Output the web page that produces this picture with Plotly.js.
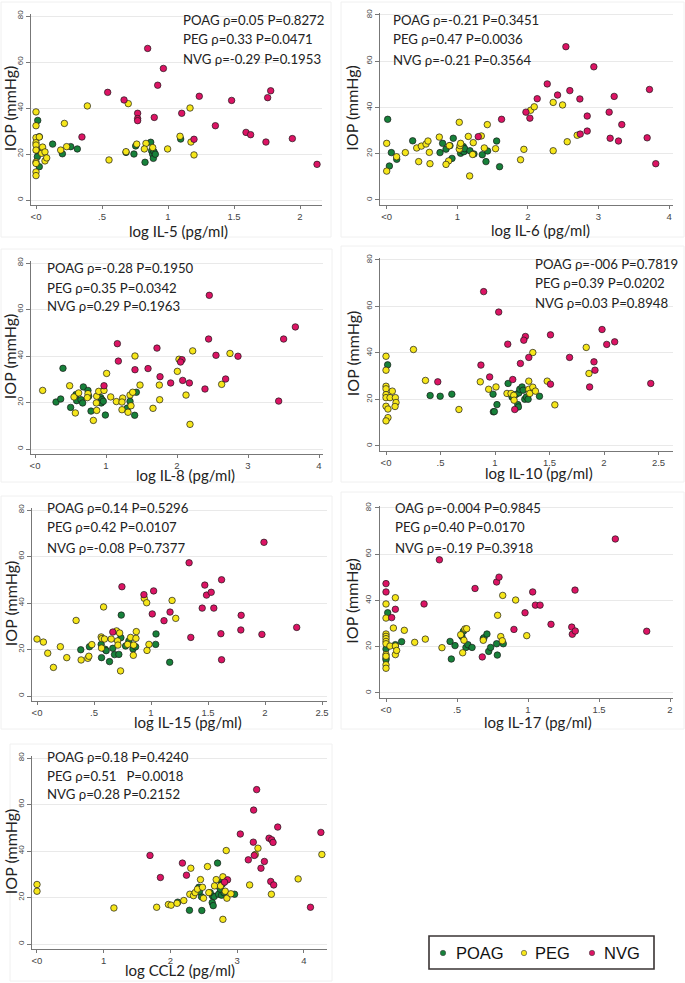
<!DOCTYPE html>
<html>
<head>
<meta charset="utf-8">
<script src="https://cdn.plot.ly/plotly-3.0.1.min.js"></script>
<style>html,body{margin:0;padding:0;background:#fff;}#chart{width:685px;height:983px;}</style>
</head>
<body>
<div id="chart"></div>
<script>
// ---------- DATA ----------
const groups = ["POAG", "PEG", "NVG"];

// IL-5
const il5_poag_x = [0.013,0.025,0.01,0.025,0.005,0.126,0.2,0.263,0.313,0.682,0.742,0.755,0.826,0.869,0.876,0.884,0.889,0.894,0.904,1.096];
const il5_poag_y = [34.6,27.5,18.8,14.5,21.6,24.3,20.1,23.2,22.2,20.7,20.0,23.5,16.4,25.1,21.4,19.9,18.1,21.0,19.9,26.5];
const il5_peg_x = [0,0,0,0,0,0,0,0,0,0,0.025,0.043,0.05,0.068,0.068,0.081,0.187,0.215,0.232,0.389,0.553,0.699,0.682,0.763,0.833,0.821,0.884,0.997,1.091,1.167,1.174,1.197];
const il5_peg_y = [38.3,32.3,27.1,24.9,23.9,21.7,16.5,15.9,12.2,10.6,27.4,20.3,23.0,20.9,17.0,18.3,21.7,33.3,23.2,40.9,17.4,41.9,21.0,24.3,24.6,22.2,22.8,22.2,27.7,40.0,25.2,19.6];
const il5_nvg_x = [0.846,0.965,0.922,0.543,0.667,0.770,0.770,0.770,0.896,1.104,1.237,1.482,1.778,1.755,1.359,1.591,1.626,1.942,1.742,1.197,2.129,0.348];
const il5_nvg_y = [65.9,57.2,49.9,46.8,43.5,37.7,35.4,34.5,35.9,37.7,45.1,43.3,47.5,44.5,32.3,29.4,28.4,26.7,25.2,26.4,15.5,27.4];

// IL-6
const il6_poag_x = [0.014,0.038,0.066,0.142,0.368,0.755,0.792,0.840,0.896,0.925,0.943,1.047,1.066,1.085,1.094,1.104,1.179,1.236,1.354,1.406,1.429,1.557,1.599];
const il6_poag_y = [34.9,14.7,20.5,17.6,25.6,20.5,24.5,22.0,23.5,18.0,26.7,20.2,21.3,23.1,20.9,22.2,21.3,19.9,19.6,16.6,21.2,25.5,14.4];
const il6_peg_x = [0,0,0.14,0.264,0.425,0.491,0.453,0.557,0.585,0.604,0.613,0.745,0.887,0.877,0.840,1.028,1.028,1.038,1.047,1.156,1.175,1.217,1.226,1.340,1.425,1.382,1.542,1.896,1.943,2.038,2.090,2.358,2.358,2.491,2.557,2.698];
const il6_peg_y = [24.5,12.5,18.7,20.5,22.5,23.3,16.6,24.2,25.5,20.6,15.7,27.2,23.5,16.9,15.4,33.6,22.0,23.5,24.5,27.5,10.4,19.7,24.8,27.7,32.6,22.5,22.2,17.4,21.9,38.8,40.3,42.2,21.3,41.1,25.2,28.0];
const il6_nvg_x = [2.538,2.934,2.274,2.420,2.594,2.132,2.736,3.222,3.722,1.972,2.028,1.627,2.840,3.151,3.330,1.297,2.741,2.840,3.165,3.283,3.689,3.811];
const il6_nvg_y = [66.3,57.6,50.2,45.4,47.3,43.8,43.7,44.8,47.8,38.0,35.4,34.9,36.3,38.0,32.6,27.4,28.5,29.8,26.7,25.5,26.9,15.7];

// IL-8
const il8_poag_x = [0.296,0.362,0.394,0.502,0.577,0.587,0.648,0.671,0.681,0.746,0.756,0.789,0.925,0.934,0.944,0.962,0.991,1.300,1.338,1.404,1.427];
const il8_poag_y = [20.2,21.5,34.7,17.9,23.4,20.8,21.2,19.8,26.7,25.2,22.7,16.3,22.1,19.8,21.2,20.5,14.6,17.6,20.5,14.5,24.4];
const il8_peg_x = [0.108,0.488,0.549,0.568,0.615,0.746,0.737,0.864,0.869,0.869,0.897,0.822,0.972,1.009,1.066,1.146,1.235,1.225,1.310,1.338,1.352,1.376,1.408,1.479,1.662,1.751,1.756,2.005,2.028,2.127,2.183,2.221,2.629,2.746,1.225];
const il8_peg_y = [25.2,27.2,22.4,15.5,24.1,23.8,22.1,19.8,22.7,16.6,24.8,12.3,25.2,32.5,22.4,20.4,21.9,16.9,15.8,23.2,18.6,24.4,40.0,27.5,17.5,27.5,21.2,33.4,38.6,23.2,10.6,42.2,27.8,41.1,20.2];
const il8_nvg_x = [2.455,2.445,3.667,3.502,1.160,1.718,1.174,2.071,2.050,2.549,2.859,1.592,1.408,1.761,0.972,2.080,1.911,2.174,2.685,2.394,3.432];
const il8_nvg_y = [66.1,47.3,52.5,47.3,45.3,43.4,37.8,38.4,37.4,40.3,39.9,34.6,34.1,31.1,27.2,29.5,28.4,28.4,30.1,25.8,20.6];

// IL-10
const il10_poag_x = [0.015,0.405,0.497,0.604,0.982,0.985,0.994,1.018,1.120,1.156,1.190,1.209,1.215,1.218,1.227,1.248,1.258,1.273,1.288,1.304,1.408];
const il10_poag_y = [34.9,21.7,21.4,22.3,22.3,14.7,14.8,17.8,26.9,21.1,22.1,17.8,16.8,22.8,24.4,25.4,24.0,20.1,21.1,20.1,21.4];
const il10_peg_x = [0,0,0,0,0,0,0,0.018,0.018,0,0.058,0.037,0.086,0.092,0.083,0.252,0.362,0.669,0.865,0.942,1.009,1.110,1.147,1.172,1.175,1.310,1.310,1.319,1.347,1.347,1.371,1.479,1.549,1.837,1.862];
const il10_peg_y = [38.6,32.6,25.7,24.6,22.1,20.8,17.1,15.9,12.2,10.8,23.6,20.8,20.8,18.7,17.0,41.5,28.2,15.7,27.6,24.4,25.4,22.6,22.6,21.8,19.7,27.9,24.4,22.6,40.2,25.3,23.6,27.9,17.7,42.4,31.2];
const il10_nvg_x = [0.896,1.034,1.117,1.279,1.264,1.509,1.982,2.025,2.098,1.310,1.684,0.871,1.233,1.908,1.917,0.951,1.163,0.475,1.509,1.868,2.429,1.181];
const il10_nvg_y = [66.4,57.6,43.8,47.1,45.5,47.8,50.1,43.7,44.8,38.1,38.1,34.8,35.5,36.2,32.6,29.7,28.6,27.6,26.6,25.4,26.9,15.7];

// IL-15
const il15_poag_x = [0.384,0.46,0.566,0.563,0.598,0.607,0.636,0.665,0.680,0.718,0.736,0.739,0.777,0.806,0.842,0.865,1.041,1.044,1.164];
const il15_poag_y = [19.9,21.2,16.5,22.2,20.1,19.5,14.8,20.5,17.8,17.9,25.1,34.8,21.5,23.7,20.2,21.2,22.2,26.7,14.5];
const il15_peg_x = [0,0.056,0.094,0.144,0.205,0.261,0.343,0.387,0.446,0.455,0.481,0.563,0.569,0.584,0.592,0.651,0.566,0.698,0.707,0.725,0.710,0.733,0.795,0.821,0.848,0.845,0.871,0.868,0.941,0.962,0.965,0.982,1.185,1.217];
const il15_peg_y = [24.5,23.2,18.4,12.3,21.2,16.5,32.5,15.5,16.2,17.1,22.1,25.4,24.7,38.3,24.5,24.5,20.6,28.0,23.7,27.1,21.9,10.8,22.2,25.2,21.9,17.5,27.7,24.8,42.0,40.1,19.6,22.2,41.1,33.4];
const il15_nvg_x = [1.991,1.334,0.745,1.472,1.619,1.023,0.938,1.487,1.528,1.449,1.551,1.011,1.167,1.791,1.114,1.788,2.278,1.349,1.613,1.973,1.619,0.665];
const il15_nvg_y = [66.1,57.3,47.0,47.7,50.0,45.2,43.6,43.4,44.6,37.8,37.8,35.3,36.1,34.7,32.4,28.4,29.5,25.2,26.8,26.5,15.6,27.5];

// IL-17
const il17_poag_x = [0.012,0,0,0,0.066,0.110,0.451,0.460,0.486,0.535,0.545,0.563,0.577,0.606,0.685,0.690,0.711,0.723,0.737,0.779,0.784,0.826];
const il17_poag_y = [34.7,19.0,15.1,14.4,20.9,22.2,22.3,14.7,20.5,24.4,26.7,19.7,20.9,19.7,23.5,23.9,25.5,18.0,19.7,21.3,16.4,21.3];
const il17_peg_x = [0,0,0,0,0,0,0,0,0,0,0,0.028,0.052,0.066,0.066,0.066,0.075,0.129,0.202,0.277,0.394,0.526,0.540,0.549,0.556,0.568,0.685,0.786,0.822,0.808,0.819,0.913,0.991];
const il17_peg_y = [38.5,32.4,25.5,24.5,23.5,22.3,21.3,16.6,15.9,12.2,10.7,20.3,28.1,41.2,20.3,16.6,18.4,27.1,21.9,23.3,19.6,25.2,17.4,22.8,27.7,27.8,22.8,33.6,42.2,24.4,22.6,40.2,24.8];
const il17_nvg_x = [1.615,0.376,0,0,0.066,0.040,0.268,0.627,0.779,0.796,1.033,1.331,0.979,1.052,1.085,0.901,1.162,1.308,1.312,1.333,1.836,0.678];
const il17_nvg_y = [66.6,57.6,47.3,43.7,36.2,32.6,38.5,45.2,48.0,50.1,43.7,44.5,34.7,38.0,38.0,27.5,29.7,28.5,25.4,26.8,26.7,15.6];

// CCL2
const ccl2_poag_x = [2.110,2.286,2.426,2.466,2.471,2.632,2.627,2.642,2.657,2.707,2.722,2.767,2.767,2.777,2.802,2.962,2.597,2.436,2.747];
const ccl2_poag_y = [18.0,14.5,24.4,20.3,14.4,20.7,17.8,16.5,20.4,34.8,21.4,21.0,26.7,25.7,22.1,21.4,22.1,22.6,23.6];
const ccl2_peg_x = [0,0,1.153,1.794,1.970,2.010,2.100,2.201,2.291,2.306,2.346,2.371,2.406,2.451,2.481,2.496,2.556,2.576,2.662,2.687,2.752,2.787,2.787,2.822,2.837,2.847,2.907,3.188,3.273,3.313,3.514,3.915,4.271];
const ccl2_peg_y = [25.6,22.7,15.5,15.8,17.0,16.7,17.5,18.7,21.4,32.6,20.8,22.1,23.6,27.7,24.4,19.7,33.3,22.1,25.0,27.7,25.0,28.9,10.6,22.7,40.2,19.7,21.6,25.4,38.5,41.2,21.4,28.0,38.5];
const ccl2_nvg_x = [3.293,3.248,3.609,3.048,4.256,3.479,3.519,3.539,3.243,1.694,3.258,3.168,3.409,2.180,3.358,1.850,2.241,2.857,2.812,3.504,3.549,4.100];
const ccl2_nvg_y = [66.4,57.6,50.3,47.3,48.0,45.5,44.8,43.7,43.8,38.1,38.1,36.2,35.5,34.8,32.6,28.6,29.6,27.6,26.6,26.9,25.4,15.8];

const xTitles = ["log IL-5 (pg/ml)", "log IL-6 (pg/ml)", "log IL-8 (pg/ml)", "log IL-10 (pg/ml)", "log IL-15 (pg/ml)", "log IL-17 (pg/ml)", "log CCL2 (pg/ml)"];
const yTitle = "IOP (mmHg)";
const xTickVals = [[0,0.5,1,1.5,2],[0,1,2,3,4],[0,1,2,3,4],[0,0.5,1,1.5,2,2.5],[0,0.5,1,1.5,2,2.5],[0,0.5,1,1.5,2],[0,1,2,3,4]];
const xTickText = [["<0",".5","1","1.5","2"],["<0","1","2","3","4"],["<0","1","2","3","4"],["<0",".5","1","1.5","2","2.5"],["<0",".5","1","1.5","2","2.5"],["<0",".5","1","1.5","2"],["<0","1","2","3","4"]];
const yTickVals = [0,20,40,60,80];
const statTexts = [
  ["POAG ρ=0.05 P=0.8272", "PEG ρ=0.33 P=0.0471", "NVG ρ=-0.29 P=0.1953"],
  ["POAG ρ=-0.21 P=0.3451", "PEG ρ=0.47 P=0.0036", "NVG ρ=-0.21 P=0.3564"],
  ["POAG ρ=-0.28 P=0.1950", "PEG ρ=0.35 P=0.0342", "NVG ρ=0.29 P=0.1963"],
  ["POAG ρ=-006 P=0.7819", "PEG ρ=0.39 P=0.0202", "NVG ρ=0.03 P=0.8948"],
  ["POAG ρ=0.14 P=0.5296", "PEG ρ=0.42 P=0.0107", "NVG ρ=-0.08 P=0.7377"],
  ["OAG ρ=-0.004 P=0.9845", "PEG ρ=0.40 P=0.0170", "NVG ρ=-0.19 P=0.3918"],
  ["POAG ρ=0.18 P=0.4240", "PEG ρ=0.51\u2002 P=0.0018", "NVG ρ=0.28 P=0.2152"]
];

const panelData = [
  [il5_poag_x, il5_poag_y, il5_peg_x, il5_peg_y, il5_nvg_x, il5_nvg_y],
  [il6_poag_x, il6_poag_y, il6_peg_x, il6_peg_y, il6_nvg_x, il6_nvg_y],
  [il8_poag_x, il8_poag_y, il8_peg_x, il8_peg_y, il8_nvg_x, il8_nvg_y],
  [il10_poag_x, il10_poag_y, il10_peg_x, il10_peg_y, il10_nvg_x, il10_nvg_y],
  [il15_poag_x, il15_poag_y, il15_peg_x, il15_peg_y, il15_nvg_x, il15_nvg_y],
  [il17_poag_x, il17_poag_y, il17_peg_x, il17_peg_y, il17_nvg_x, il17_nvg_y],
  [ccl2_poag_x, ccl2_poag_y, ccl2_peg_x, ccl2_peg_y, ccl2_nvg_x, ccl2_nvg_y]
];

// ---------- LAYOUT ----------
const W = 685, H = 983;
const colors = {POAG: "#17813a", PEG: "#f6e61a", NVG: "#dc1464"};
// x0/xs: pixel of x=0 and px per unit; y0/y80: pixels of y=0 and y=80;
// tx/ty: stats text position; xt: x-title centre; yt: y-title x centre; fr: faint panel frame
const geo = [
  {x0: 36, xs: 132, xr: [-0.04, 2.17], y0: 200, y80: 16, tx: 181, ty: [20, 39, 59], xt: [178, 231], yt: 9, fr: [1, 2, 331, 237]},
  {x0: 386.7, xs: 70.6, xr: [-0.09, 4.05], y0: 200, y80: 15, tx: 391, ty: [20, 39, 60], xt: [540, 230], yt: 352, fr: [341, 2, 684, 237]},
  {x0: 35, xs: 71, xr: [-0.06, 4.06], y0: 449, y80: 263, tx: 45, ty: [268, 288, 306], xt: [185, 475], yt: 9, fr: [1, 249, 332, 482]},
  {x0: 386, xs: 109, xr: [-0.055, 2.63], y0: 446, y80: 260, tx: 533, ty: [264, 283, 303], xt: [539, 473], yt: 352, fr: [341, 246, 684, 482]},
  {x0: 37, xs: 114, xr: [-0.045, 2.54], y0: 696, y80: 510, tx: 45, ty: [508, 527, 548], xt: [188, 722], yt: 10, fr: [1, 496, 332, 729]},
  {x0: 386, xs: 142, xr: [-0.045, 2.02], y0: 693, y80: 508, tx: 393, ty: [508, 527, 548], xt: [538, 722], yt: 352, fr: [341, 492, 684, 729]},
  {x0: 37, xs: 66.7, xr: [-0.075, 4.35], y0: 944, y80: 758, tx: 45, ty: [757, 776, 794], xt: [180, 970], yt: 10, fr: [10, 744, 332, 981]}
];
const yr = [-2, 81];
const leg = {box: [429, 936, 654, 969], cy: 953, dots: [443, 524, 592], texts: [454, 533, 602]};

const traces = [];
const layout = {
  width: W, height: H,
  margin: {l: 0, r: 0, t: 0, b: 0},
  paper_bgcolor: "#fff", plot_bgcolor: "#fff",
  font: {family: "Lato, 'Open Sans', sans-serif", color: "#222"},
  showlegend: false,
  annotations: [], shapes: []
};

geo.forEach((g, i) => {
  const n = i + 1;
  const xa = n === 1 ? "xaxis" : "xaxis" + n;
  const ya = n === 1 ? "yaxis" : "yaxis" + n;
  const xref = n === 1 ? "x" : "x" + n;
  const yref = n === 1 ? "y" : "y" + n;
  const ys = (g.y0 - g.y80) / 80;
  const left = g.x0 + g.xr[0] * g.xs, right = g.x0 + g.xr[1] * g.xs;
  const top = g.y0 - yr[1] * ys, bottom = g.y0 - yr[0] * ys;
  layout[xa] = {
    domain: [left / W, right / W], anchor: yref, range: g.xr, automargin: false,
    tickmode: "array", tickvals: xTickVals[i], ticktext: xTickText[i],
    ticks: "outside", ticklen: 3, tickcolor: "#777", tickwidth: 1,
    showline: true, linecolor: "#777", linewidth: 1, showgrid: false, zeroline: false,
    tickfont: {size: 9.5, color: "#444", family: "'Liberation Sans', Arial, sans-serif"}
  };
  layout[ya] = {
    domain: [1 - bottom / H, 1 - top / H], anchor: xref, range: yr, automargin: false,
    tickmode: "array", tickvals: yTickVals, tickangle: -90,
    ticks: "outside", ticklen: 4, tickcolor: "#777", tickwidth: 1,
    showline: true, linecolor: "#777", linewidth: 1,
    showgrid: true, gridcolor: "#e9e9e9", gridwidth: 1, zeroline: false,
    tickfont: {size: 8, color: "#444", family: "'Liberation Sans', Arial, sans-serif"}
  };
  const d = panelData[i];
  groups.forEach((grp, k) => {
    traces.push({
      type: "scatter", mode: "markers", name: grp,
      x: d[2 * k], y: d[2 * k + 1], xaxis: xref, yaxis: yref,
      marker: {color: colors[grp], size: 6.5, line: {color: "#1a1a1a", width: 0.7}},
      hoverinfo: "skip", cliponaxis: false
    });
  });
  statTexts[i].forEach((t, j) => {
    layout.annotations.push({
      text: t, xref: "paper", yref: "paper", x: g.tx / W, y: 1 - g.ty[j] / H,
      xanchor: "left", yanchor: "middle", showarrow: false,
      font: {size: 13.2, color: "#222", family: "Lato, 'Open Sans', sans-serif"}
    });
  });
  // axis titles
  layout.annotations.push({
    text: xTitles[i], xref: "paper", yref: "paper", x: g.xt[0] / W, y: 1 - g.xt[1] / H,
    xanchor: "center", yanchor: "middle", showarrow: false,
    font: {size: 15, color: "#222", family: "Lato, 'Open Sans', sans-serif"}
  });
  layout.annotations.push({
    text: yTitle, xref: "paper", yref: "paper", x: g.yt / W, y: 1 - ((top + bottom) / 2) / H,
    xanchor: "center", yanchor: "middle", showarrow: false, textangle: -90,
    font: {size: 16, color: "#222", family: "Lato, 'Open Sans', sans-serif"}
  });
  layout.shapes.push({
    type: "rect", xref: "paper", yref: "paper",
    x0: g.fr[0] / W, x1: g.fr[2] / W, y0: 1 - g.fr[3] / H, y1: 1 - g.fr[1] / H,
    line: {color: "#f0f0f0", width: 1}, layer: "below"
  });
});

// legend: box with group symbols and names
layout.shapes.push({
  type: "rect", xref: "paper", yref: "paper",
  x0: leg.box[0] / W, x1: leg.box[2] / W, y0: 1 - leg.box[3] / H, y1: 1 - leg.box[1] / H,
  line: {color: "#3a3434", width: 1.6}, fillcolor: "#fff"
});
groups.forEach((grp, k) => {
  const r = 2.7;
  layout.shapes.push({
    type: "circle", xref: "paper", yref: "paper",
    x0: (leg.dots[k] - r) / W, x1: (leg.dots[k] + r) / W,
    y0: 1 - (leg.cy + r) / H, y1: 1 - (leg.cy - r) / H,
    fillcolor: colors[grp], line: {color: "#444", width: 0.6}
  });
  layout.annotations.push({
    text: grp, xref: "paper", yref: "paper", x: leg.texts[k] / W, y: 1 - leg.cy / H,
    xanchor: "left", yanchor: "middle", showarrow: false,
    font: {size: 16.5, color: "#111", family: "'Liberation Sans', Arial, sans-serif"}
  });
});

Plotly.newPlot("chart", traces, layout, {staticPlot: true});
</script>
</body>
</html>
